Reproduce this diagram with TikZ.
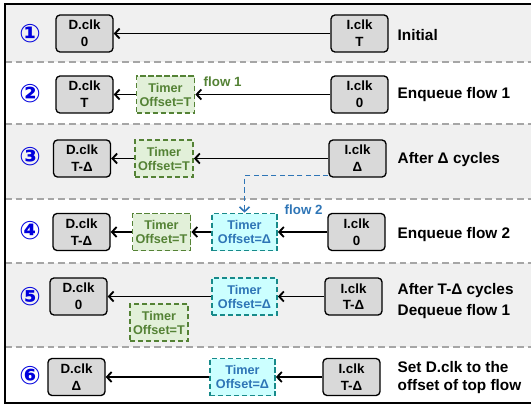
\documentclass[tikz,border=0pt]{standalone}
\usepackage{fontspec}
\setmainfont{Liberation Sans}
\newfontfamily\circfont{DejaVu Sans}
\usetikzlibrary{arrows.meta}
\definecolor{clkgray}{HTML}{D9D9D9}
\definecolor{bandgray}{HTML}{F0F0F0}
\definecolor{sepgray}{HTML}{A6A6A6}
\definecolor{oldgreen}{HTML}{548235}
\definecolor{oldfill}{HTML}{E2F0D9}
\definecolor{newteal}{HTML}{178A8A}
\definecolor{newfill}{HTML}{CCFFFF}
\definecolor{newblue}{HTML}{2E75B6}
\definecolor{numblue}{HTML}{0000DD}

\begin{document}
\begin{tikzpicture}[x=0.75pt,y=-0.75pt,
	clk/.style={draw,rounded corners=3pt,fill=clkgray,line width=1pt,minimum width=42.75pt,minimum height=27.75pt,inner sep=0pt,align=center,font=\bfseries\fontsize{10}{12.5}\selectfont},
	tmrold/.style={draw=oldgreen,fill=oldfill,text=oldgreen,dash pattern=on 4pt off 2pt,line width=1.3pt,minimum width=43.5pt,minimum height=27.75pt,inner sep=0pt,align=center,font=\bfseries\fontsize{9.5}{10.5}\selectfont},
	tmrnew/.style={tmrold,draw=newteal,fill=newfill,text=newblue,minimum width=48.75pt},
	num/.style={text=numblue,font=\circfont\bfseries\fontsize{19}{19}\selectfont},
	stagetxt/.style={anchor=west,align=left,font=\bfseries\fontsize{11.5}{16}\selectfont}]
	\useasboundingbox (0,0) rectangle (531,406);
	\clip (0,0) rectangle (531,406);
	\fill[bandgray] (5,4) rectangle (560,62);
	\fill[bandgray] (5,124) rectangle (560,199);
	\fill[bandgray] (5,263) rectangle (560,347);
	\foreach \y in {62,124,199,263,347}
		\draw[sepgray,line width=1.6pt,dash pattern=on 5pt off 3pt] (5,\y) -- (560,\y);
	\draw[line width=1.6pt] (5,4) rectangle (560,403);

	\node[num] (n1) at (30,34){①};
	\node[num] (n2) at (30,94){②};
	\node[num] (n3) at (30,157){③};
	\node[num] (n4) at (30,231){④};
	\node[num] (n5) at (30,297){⑤};
	\node[num] (n6) at (30,376){⑥};

	\node[clk] (d1) at (84.5,33.5){D.clk\\0};
	\node[clk] (i1) at (359.5,33.5){I.clk\\T};
	\node[stagetxt] (s1) at (393,35){Initial};

	\node[clk] (d2) at (84.5,94.5){D.clk\\T};
	\node[tmrold] (t2) at (165.5,94.5){Timer\\Offset=T};
	\node[clk] (i2) at (359.5,94.5){I.clk\\0};
	\node[anchor=west,text=oldgreen,font=\bfseries\fontsize{10}{10}\selectfont] (f1) at (199,82){flow 1};
	\node[stagetxt] (s2) at (393,95){Enqueue flow 1};

	\node[clk] (d3) at (82,158.5){D.clk\\T-Δ};
	\node[tmrold] (t3) at (164,158.5){Timer\\Offset=T};
	\node[clk] (i3) at (357.5,158.5){I.clk\\Δ};
	\node[stagetxt] (s3) at (393,160){After Δ cycles};

	\node[clk] (d4) at (81.5,232){D.clk\\T-Δ};
	\node[tmrold] (t4) at (161.5,232){Timer\\Offset=T};
	\node[tmrnew] (w4) at (244.5,232){Timer\\Offset=Δ};
	\node[clk] (i4) at (356.5,232){I.clk\\0};
	\node[anchor=west,text=newblue,font=\bfseries\fontsize{10}{10}\selectfont] (f2) at (280,210){flow 2};
	\node[stagetxt] (s4) at (393,235){Enqueue flow 2};

	\node[clk] (d5) at (78.5,296.5){D.clk\\0};
	\node[tmrnew] (w5) at (244.5,296.5){Timer\\Offset=Δ};
	\node[clk] (i5) at (353.5,296.5){I.clk\\T-Δ};
	\node[tmrold] (t5) at (159,322.5){Timer\\Offset=T};
	\node[stagetxt] (s5) at (393,301){After T-Δ cycles\\Dequeue flow 1};

	\node[clk] (d6) at (76.5,377){D.clk\\Δ};
	\node[tmrnew] (w6) at (242.5,377){Timer\\Offset=Δ};
	\node[clk] (i6) at (351.5,377){I.clk\\T-Δ};
	\node[stagetxt,font=\bfseries\fontsize{11.5}{13.5}\selectfont] (s6) at (393,378){Set D.clk to the\\offset of top flow};

	\begin{scope}[line width=1.4pt,-{Straight Barb[length=3.5pt,width=7.5pt]}]
	\draw (i1)--(d1);
	\draw (i2)--(t2);
	\draw (t2)--(d2);
	\draw (i3)--(t3);
	\draw (t3)--(d3);
	\draw (i4)--(w4);
	\draw (w4)--(t4);
	\draw (t4)--(d4);
	\draw (i5)--(w5);
	\draw (w5)--(d5);
	\draw (i6)--(w6);
	\draw (w6)--(d6);
	\draw[newblue,line width=1.2pt,dash pattern=on 4pt off 2.5pt] ([yshift=1.5pt]i3.south west) -| (w4.north);
	\end{scope}
\end{tikzpicture}
\end{document}
